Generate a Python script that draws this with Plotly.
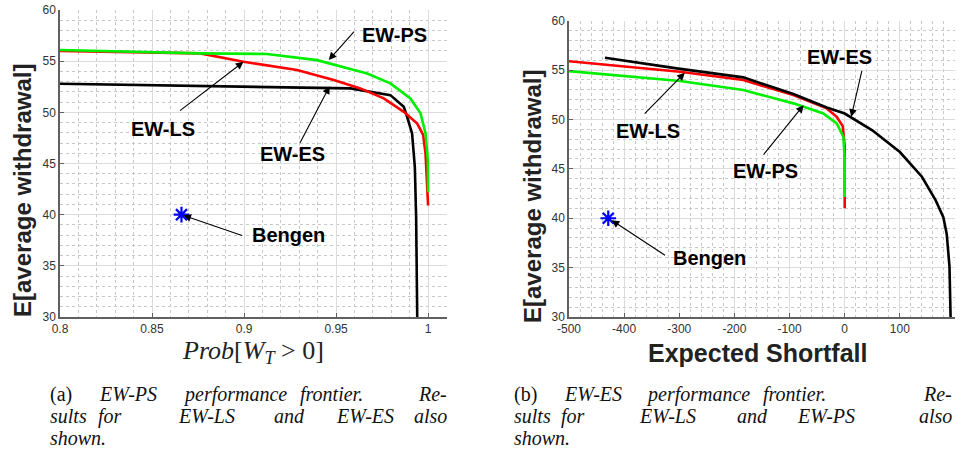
import plotly.graph_objects as go

# ---------------- data ----------------
# Left panel: x = Prob[W_T > 0], y = E[average withdrawal]
ps_prob = [0.8, 0.8762, 0.9124, 0.9397, 0.9669, 0.9795, 0.9904, 0.9959, 0.9986, 0.99985, 1.0]
ps_prob_w = [56.09, 55.76, 55.7, 55.1, 53.8, 52.83, 51.36, 49.9, 47.94, 45.3, 42.2]

ls_prob = [0.8, 0.8762, 0.8997, 0.9288, 0.9487, 0.9632, 0.9759, 0.9868, 0.9941, 0.9973, 0.9986, 0.9995, 1.0]
ls_prob_w = [56.0, 55.76, 54.94, 54.13, 53.15, 52.34, 51.36, 50.05, 48.9, 47.8, 45.98, 43.05, 40.9]

es_prob = [0.8, 0.9578, 0.9795, 0.9868, 0.9886, 0.9913, 0.9928, 0.9935, 0.9941]
es_prob_w = [52.8, 52.34, 51.68, 50.54, 49.56, 47.94, 44.67, 39.78, 30.0]

bengen_prob = [0.866]
bengen_prob_w = [40.0]

# Right panel: x = Expected Shortfall, y = E[average withdrawal]
es_es = [-434.7, -304.7, -183.9, -93.2, -32.6, 0, 50, 100, 140, 165, 178.8, 185, 190, 192]
es_es_w = [56.25, 55.17, 54.26, 52.57, 51.22, 50.6, 48.9, 46.7, 44.2, 41.8, 40.1, 38.4, 35.1, 30.0]

ls_es = [-500, -298.7, -183.9, -93.2, -32.6, -14.5, -3.6, 0, 0]
ls_es_w = [55.9, 54.83, 53.99, 52.47, 51.12, 50.27, 49.33, 47.23, 41.0]

ps_es = [-500, -298.7, -183.9, -93.2, -38.8, -14.5, -2.4, 0, 0]
ps_es_w = [54.9, 53.89, 52.98, 51.63, 50.61, 49.6, 48.24, 45.9, 42.16]

bengen_es = [-428.8]
bengen_es_w = [40.0]

# tick labels
left_xticks = [0.8, 0.85, 0.9, 0.95, 1.0]
left_xticktext = ["0.8", "0.85", "0.9", "0.95", "1"]
right_xticks = [-500, -400, -300, -200, -100, 0, 100, 200]
right_xticktext = ["-500", "-400", "-300", "-200", "-100", "0", "100", "200"]
yticks = [30, 35, 40, 45, 50, 55, 60]
yticktext = ["30", "35", "40", "45", "50", "55", "60"]

# ---------------- figure ----------------
W, H = 961, 450
RED, GREEN, BLACK, BLUE = "#ff0000", "#00ee00", "#000000", "#0000ff"
LW = 2.6

fig = go.Figure()

def line(x, y, color, xa, ya):
    fig.add_trace(go.Scatter(x=x, y=y, mode="lines", line=dict(color=color, width=LW),
                             xaxis=xa, yaxis=ya, showlegend=False, hoverinfo="skip"))

def star(x, y, xa, ya):
    fig.add_trace(go.Scatter(x=x, y=y, mode="markers",
                             marker=dict(symbol="asterisk-open", size=13, color=BLUE,
                                         line=dict(color=BLUE, width=2.2)),
                             xaxis=xa, yaxis=ya, showlegend=False, hoverinfo="skip"))

# left panel
line(es_prob, es_prob_w, BLACK, "x", "y")
line(ls_prob, ls_prob_w, RED, "x", "y")
line(ps_prob, ps_prob_w, GREEN, "x", "y")
star(bengen_prob, bengen_prob_w, "x", "y")
# right panel
line(ls_es, ls_es_w, RED, "x2", "y2")
line(ps_es, ps_es_w, GREEN, "x2", "y2")
line(es_es, es_es_w, BLACK, "x2", "y2")
star(bengen_es, bengen_es_w, "x2", "y2")

GRID = "#dcdcdc"
MINOR = "#c8c8c8"
AXC = "#606060"
TICKFONT = dict(family="Liberation Sans, Arial, sans-serif", size=12, color="#333333")

def xaxis(dom, rng, tv, tt, minor_dt, anchor):
    return dict(domain=dom, range=rng, tickvals=tv, ticktext=tt, showgrid=True, gridcolor=GRID,
                gridwidth=1, zeroline=False, showline=True, linecolor=AXC, linewidth=1.5,
                ticks="inside", ticklen=4, tickcolor=AXC, tickfont=TICKFONT, anchor=anchor,
                automargin=False,
                minor=dict(dtick=minor_dt, showgrid=True, gridcolor=MINOR, griddash="dot",
                           gridwidth=1, ticks=""))

def yaxis(dom, anchor):
    return dict(domain=dom, range=[30, 60], tickvals=yticks, ticktext=yticktext, showgrid=True,
                gridcolor=GRID, gridwidth=1, zeroline=False, showline=True, linecolor=AXC,
                linewidth=1.5, ticks="inside", ticklen=4, tickcolor=AXC, tickfont=TICKFONT,
                anchor=anchor, automargin=False,
                minor=dict(dtick=1, showgrid=True, gridcolor=MINOR, griddash="dot", gridwidth=1, ticks=""))

L_x0, L_x1, L_y0, L_y1 = 60, 446.5, 317, 10
R_x0, R_x1, R_y0, R_y1 = 569, 955, 317, 20.7

fig.update_layout(
    width=W, height=H, autosize=False,
    margin=dict(l=0, r=0, t=0, b=0, autoexpand=False),
    paper_bgcolor="white", plot_bgcolor="white",
    xaxis=xaxis([L_x0 / W, L_x1 / W], [0.8, 1.01], left_xticks, left_xticktext, 0.01, "y"),
    yaxis=yaxis([1 - L_y0 / H, 1 - L_y1 / H], "x"),
    xaxis2=xaxis([R_x0 / W, R_x1 / W], [-500, 200], right_xticks, right_xticktext, 20, "y2"),
    yaxis2=yaxis([1 - R_y0 / H, 1 - R_y1 / H], "x2"),
)

ann = []
BOLD = "Liberation Sans, Arial, sans-serif"

def label(text, x, y, xr, yr, size=20):
    ann.append(dict(text="<b>%s</b>" % text, x=x, y=y, xref=xr, yref=yr, showarrow=False,
                    font=dict(family=BOLD, size=size, color="black"),
                    xanchor="center", yanchor="middle"))

def arrow(hx, hy, tx, ty, xr, yr):
    ann.append(dict(text="", x=hx, y=hy, ax=tx, ay=ty, xref=xr, yref=yr, axref=xr, ayref=yr,
                    showarrow=True, arrowhead=2, arrowsize=1.4, arrowwidth=1.1,
                    arrowcolor="black", standoff=0, startstandoff=0))

# left panel labels / arrows
label("EW-PS", 0.9817, 57.55, "x", "y")
arrow(0.946, 55.11, 0.9605, 58.04, "x", "y")
label("EW-LS", 0.8559, 48.42, "x", "y")
arrow(0.8997, 54.94, 0.8644, 50.05, "x", "y")
label("EW-ES", 0.9264, 45.88, "x", "y")
arrow(0.9465, 52.56, 0.930, 46.89, "x", "y")
label("Bengen", 0.9242, 37.99, "x", "y")
arrow(0.867, 39.94, 0.8997, 37.92, "x", "y")

# right panel labels / arrows
label("EW-ES", -9.4, 56.35, "x2", "y2")
arrow(11.8, 50.27, 31.7, 55.07, "x2", "y2")
label("EW-LS", -356.4, 48.85, "x2", "y2")
arrow(-290, 54.73, -365.4, 50.44, "x2", "y2")
label("EW-PS", -143.3, 44.8, "x2", "y2")
arrow(-74.5, 51.45, -149.4, 46.28, "x2", "y2")
label("Bengen", -245.9, 36.01, "x2", "y2")
arrow(-422.8, 39.8, -323.2, 36.15, "x2", "y2")

def paper_text(text, px, py, font, xanchor="center", angle=0):
    ann.append(dict(text=text, x=px / W, y=1 - py / H, xref="paper", yref="paper",
                    showarrow=False, font=font, xanchor=xanchor, yanchor="middle",
                    textangle=angle, borderpad=0))

# axis titles
ylab_font = dict(family=BOLD, size=24, color="#222222")
paper_text("<b>E[average withdrawal]</b>", 23, 191, ylab_font, angle=-90)
paper_text("<b>E[average withdrawal]</b>", 532, 197, ylab_font, angle=-90)
paper_text("<b>Expected Shortfall</b>", 758, 353, dict(family=BOLD, size=25, color="#222222"))
paper_text("<i>Prob</i>[<i>W</i><sub><i>T</i></sub> &gt; 0]", 253, 352,
           dict(family="Liberation Serif, Times New Roman, serif", size=26, color="#222222"))

# captions (justified: first word left, middle words centred, last word right)
CAP = dict(family="Liberation Serif, Times New Roman, serif", size=20, color="#111111")
cap_a = [
    (394, "(a)", 49, [("<i>EW-PS</i>", 128), ("<i>performance</i>", 235), ("<i>frontier.</i>", 331)], "<i>Re-</i>"),
    (416, "<i>sults</i>", 49, [("<i>for</i>", 110), ("<i>EW-LS</i>", 206), ("<i>and</i>", 289), ("<i>EW-ES</i>", 365)], "<i>also</i>"),
    (438, "<i>shown.</i>", 49, [], None),
]
cap_b = [
    (394, "(b)", 513, [("<i>EW-ES</i>", 593), ("<i>performance</i>", 698), ("<i>frontier.</i>", 794)], "<i>Re-</i>"),
    (416, "<i>sults</i>", 513, [("<i>for</i>", 573), ("<i>EW-LS</i>", 667), ("<i>and</i>", 752), ("<i>EW-PS</i>", 826)], "<i>also</i>"),
    (438, "<i>shown.</i>", 513, [], None),
]
for cap, xr_end in ((cap_a, 448), (cap_b, 953)):
    for py, first, x0, mids, last in cap:
        paper_text(first, x0, py, CAP, xanchor="left")
        for w, px in mids:
            paper_text(w, px, py, CAP, xanchor="center")
        if last:
            paper_text(last, xr_end, py, CAP, xanchor="right")

fig.update_layout(annotations=ann)
fig.write_html("out.html")
